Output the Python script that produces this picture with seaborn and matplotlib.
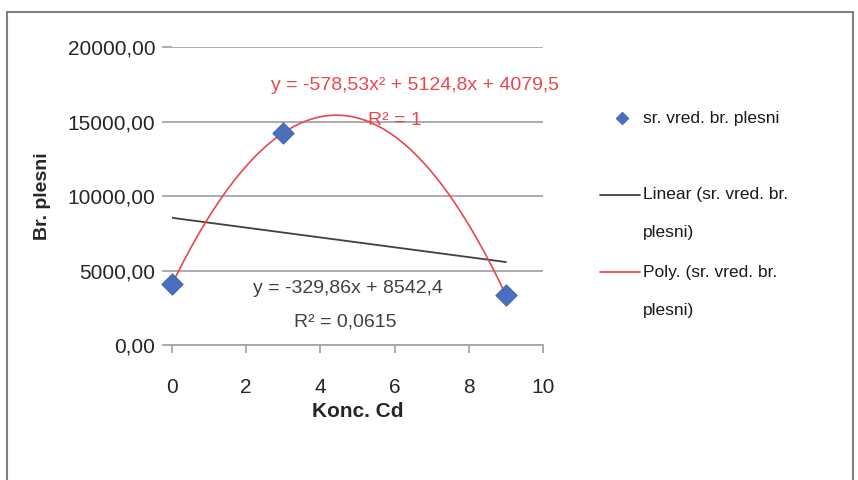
import numpy as np
import pandas as pd
import matplotlib
matplotlib.use("Agg")
import matplotlib.pyplot as plt
import seaborn as sns
from matplotlib.lines import Line2D
from matplotlib.patches import Rectangle

# podaci sa grafika
konc_cd = [0, 3, 9]
br_plesni = [4079.5, 14247.1, 3341.8]
y_ticks = [0, 5000, 10000, 15000, 20000]
x_ticks = [0, 2, 4, 6, 8, 10]
lin_label = "y = -329,86x + 8542,4"
lin_r2 = "R² = 0,0615"
poly_label = "y = -578,53x² + 5124,8x + 4079,5"
poly_r2 = "R² = 1"
legend_labels = ["sr. vred. br. plesni", "Linear (sr. vred. br.", "Poly. (sr. vred. br."]

BLUE = "#4a6fbf"
DARK = "#404040"
RED = "#e8474f"

sns.set_style("white")
FONT = ["Liberation Sans", "DejaVu Sans"]
plt.rcParams["font.family"] = FONT

df = pd.DataFrame({"Konc. Cd": konc_cd, "Br. plesni": br_plesni})

W, H = 858, 480
fig = plt.figure(figsize=(W / 100, H / 100), dpi=100)
fig.patches.append(Rectangle((0.008, -0.05), 0.986, 1.025, transform=fig.transFigure,
                             fill=False, edgecolor="#7f7f7f", linewidth=1.5))
ax = fig.add_axes([0.2005, 0.281, 0.4325, 0.621])

# trend linije
sns.regplot(data=df, x="Konc. Cd", y="Br. plesni", order=1, ci=None, scatter=False,
            ax=ax, line_kws={"color": DARK, "linewidth": 1.3})
sns.regplot(data=df, x="Konc. Cd", y="Br. plesni", order=2, ci=None, scatter=False,
            ax=ax, line_kws={"color": RED, "linewidth": 1.2})
sns.scatterplot(data=df, x="Konc. Cd", y="Br. plesni", marker="D", s=120,
                color=BLUE, edgecolor="#3a5aa0", linewidth=0.5, ax=ax, zorder=5,
                clip_on=False)

ax.set_xlim(0, 10)
ax.set_ylim(0, 20000)
ax.set_xticks(x_ticks)
ax.set_yticks(y_ticks)
ax.set_yticklabels([f"{v:.2f}".replace(".", ",") for v in y_ticks], fontsize=15)
ax.set_xticklabels([str(v) for v in x_ticks], fontsize=15)
ax.yaxis.grid(True, color="#a6a6a6", linewidth=1.3)
ax.set_axisbelow(True)
for s in ["top", "right", "left"]:
    ax.spines[s].set_visible(False)
ax.spines["bottom"].set_color("#a6a6a6")
ax.spines["bottom"].set_linewidth(1.3)
ax.tick_params(axis="y", length=7, color="#a6a6a6", width=1.3, pad=5, left=True)
ax.tick_params(axis="x", length=6, color="#a6a6a6", width=1.3, pad=18, bottom=True)

ax.set_ylabel("Br. plesni", fontsize=14, fontweight="bold", labelpad=12)
ax.set_xlabel("Konc. Cd", fontsize=15, fontweight="bold", labelpad=3)

ax.text(6.55, 17450, poly_label, color=RED, fontsize=14, ha="center", va="center")
ax.text(6.0, 15100, poly_r2, color=RED, fontsize=14, ha="center", va="center")
ax.text(4.75, 3825, lin_label, color=DARK, fontsize=14, ha="center", va="center")
ax.text(4.66, 1540, lin_r2, color=DARK, fontsize=14, ha="center", va="center")

# legenda kao u Excelu (simbol uz prvi red teksta)
def fx(px):
    return px / W

def fy(py):
    return 1 - py / H

fig.add_artist(Line2D([fx(622)], [fy(118)], marker="D", color=BLUE, markersize=6,
                      linestyle="none", transform=fig.transFigure))
fig.add_artist(Line2D([fx(600), fx(640)], [fy(195)] * 2, color=DARK, linewidth=1.3,
                      transform=fig.transFigure))
fig.add_artist(Line2D([fx(600), fx(640)], [fy(272)] * 2, color=RED, linewidth=1.3,
                      transform=fig.transFigure))
for txt, py in zip(legend_labels, [118, 195, 272]):
    fig.text(fx(643), fy(py), txt, fontsize=12.5, color="#1a1a1a", va="center", ha="left")
for py in [232, 310]:
    fig.text(fx(643), fy(py), "plesni)", fontsize=12.5, color="#1a1a1a", va="center", ha="left")

fig.savefig("out.png", dpi=100)
